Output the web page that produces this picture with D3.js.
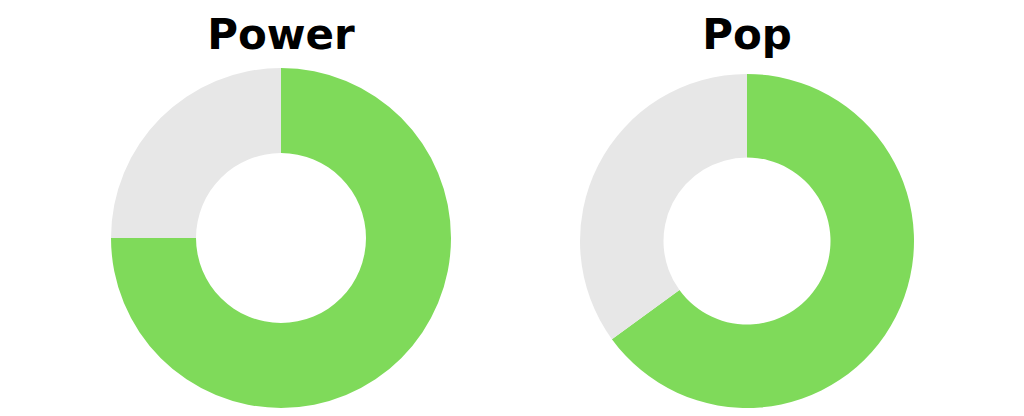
<!DOCTYPE html>
<html lang="en">
<head>
  <meta charset="UTF-8">
  <title>Power vs Pop</title>
  <style>
    body {
      margin: 0;
      background: #fff;
      overflow: hidden;
    }

    .title {
      font-family: "DejaVu Sans", sans-serif;
      font-weight: bold;
      font-size: 42px;
      fill: #000;
      text-anchor: middle;
    }
  </style>
</head>
<body>
  <svg id="chart"></svg>

  <script src="https://d3js.org/d3.v7.min.js"></script>
  <script>
    // chart data
    const titles = ["Power", "Pop"];
    const filled = [75, 65];
    const remaining = [25, 35];
    const segmentNames = ["filled", "remaining"];

    const width = 1024;
    const height = 416;

    const svg = d3.select("#chart").attr("width", width).attr("height", height);

    const x = d3.scalePoint().domain(titles).range([281, 747]);
    const color = d3.scaleOrdinal().domain(segmentNames).range(["#7fda5a", "#e7e7e7"]);

    // each donut is a touch different in the original
    const outerR = { Power: 170, Pop: 167 };
    const centerY = { Power: 238, Pop: 241 };

    const pie = d3.pie().sort(null).value(d => d.value);

    titles.forEach((title, i) => {
      const values = [
        { name: segmentNames[0], value: filled[i] },
        { name: segmentNames[1], value: remaining[i] }
      ];

      const arc = d3.arc()
        .innerRadius(outerR[title] * 0.5)
        .outerRadius(outerR[title]);

      const g = svg.append("g")
        .attr("transform", `translate(${x(title)},${centerY[title]})`);

      g.selectAll("path")
        .data(pie(values))
        .enter()
        .append("path")
        .attr("d", arc)
        .attr("fill", d => color(d.data.name));

      svg.append("text")
        .attr("class", "title")
        .attr("x", x(title))
        .attr("y", 49)
        .text(title);
    });
  </script>
</body>
</html>
